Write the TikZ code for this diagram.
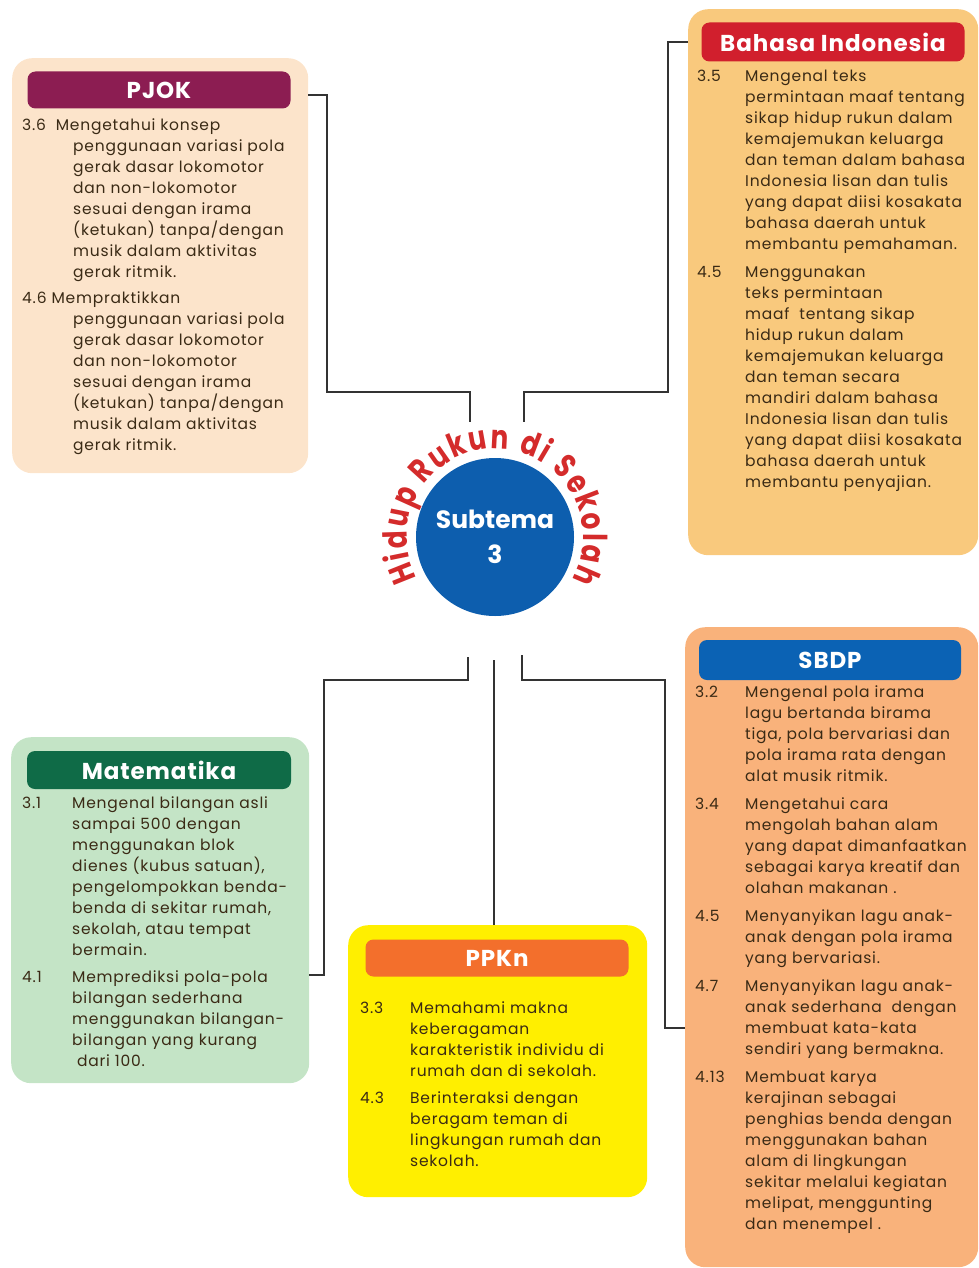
\documentclass[tikz,border=0pt]{standalone}
\usepackage{fontspec}
\setmainfont{Poppins}
\newfontfamily\bodyfam[LetterSpace=5]{Poppins}
\newfontfamily\headfam[LetterSpace=4]{Poppins}
\newfontfamily\arcfam[FakeStretch=0.8]{Poppins}
\usetikzlibrary{positioning,decorations.text}

\definecolor{pjokbg}{HTML}{FCE4CB}
\definecolor{pjokhd}{HTML}{8C1D52}
\definecolor{bindbg}{HTML}{F9C97D}
\definecolor{bindhd}{HTML}{D11F2D}
\definecolor{matbg}{HTML}{C4E4C6}
\definecolor{mathd}{HTML}{0F6B47}
\definecolor{ppknbg}{HTML}{FFEF00}
\definecolor{ppknhd}{HTML}{F36F2C}
\definecolor{sbdpbg}{HTML}{F9B27B}
\definecolor{sbdphd}{HTML}{0B62B4}
\definecolor{subblue}{HTML}{0D5EAE}
\definecolor{arcred}{HTML}{D42B2B}
\definecolor{ink}{HTML}{3A2A15}
\definecolor{wirec}{HTML}{333333}

\newcommand{\arcfont}{\arcfam\fontsize{33}{33}\selectfont\bfseries\color{arcred}}

\begin{document}
\begin{tikzpicture}[x=1pt, y=1pt,
    panel/.style={rounded corners=20pt, anchor=north west, inner sep=0pt},
    head/.style={rounded corners=8pt, text=white, inner sep=0pt,
      font=\headfam\fontsize{23}{23}\selectfont\bfseries},
    body/.style={anchor=base west, inner sep=0pt, text=ink, align=left,
      font=\bodyfam\fontsize{15.5}{21}\selectfont},
    wire/.style={draw=wirec, line width=1.8pt}
  ]
  \useasboundingbox (0,0) rectangle (979,-1268);

  % panels and their title bars
  \node[panel, fill=pjokbg, minimum width=296pt, minimum height=415pt] (pjok) at (12,-58) {};
  \node[head, fill=pjokhd, minimum width=263pt, minimum height=37pt] (pjokh) at (159,-90) {PJOK};

  \node[panel, fill=bindbg, minimum width=290pt, minimum height=546pt] (bind) at (688,-9) {};
  \node[head, fill=bindhd, minimum width=263pt, minimum height=39pt] (bindh) at (833,-42) {Bahasa Indonesia};

  \node[panel, fill=matbg, minimum width=298pt, minimum height=346pt] (mat) at (11,-737) {};
  \node[head, fill=mathd, minimum width=264pt, minimum height=38pt] (math) at (159,-770) {Matematika};

  \node[panel, fill=ppknbg, minimum width=299pt, minimum height=272pt] (ppkn) at (348,-925) {};
  \node[head, fill=ppknhd, minimum width=263pt, minimum height=37pt] (ppknh) at (497,-958) {PPKn};

  \node[panel, fill=sbdpbg, minimum width=293pt, minimum height=640pt] (sbdp) at (685,-627) {};
  \node[head, fill=sbdphd, minimum width=262pt, minimum height=40pt] (sbdph) at (830,-660) {SBDP};

  % centre
  \node[circle, fill=subblue, minimum size=158pt, text=white, align=center,
    font=\fontsize{25}{35}\selectfont\bfseries] (sub) at (495,-537) {Subtema\\3};
  \path[decorate, decoration={text along path, text align=fit to path,
      text={|\arcfont|Hidup Rukun di Sekolah}}]
    (sub.center) ++(208:88) arc[start angle=208, end angle=-29, radius=88];

  % competencies
  \node[body] (pjokt) at (22,-131) {\begin{tabular}[t]{@{}p{51pt}@{}l@{}}
    \multicolumn{2}{@{}l@{}}{3.6\ \ Mengetahui konsep}\\
    & penggunaan variasi pola\\
    & gerak dasar lokomotor\\
    & dan non-lokomotor\\
    & sesuai dengan irama\\
    & (ketukan) tanpa/dengan\\
    & musik dalam aktivitas\\
    & gerak ritmik.\\[5pt]
    \multicolumn{2}{@{}l@{}}{4.6 Mempraktikkan}\\
    & penggunaan variasi pola\\
    & gerak dasar lokomotor\\
    & dan non-lokomotor\\
    & sesuai dengan irama\\
    & (ketukan) tanpa/dengan\\
    & musik dalam aktivitas\\
    & gerak ritmik.
  \end{tabular}};

  \node[body] (bindt) at (697,-82) {\begin{tabular}[t]{@{}p{48pt}@{}l@{}}
    3.5 & Mengenal teks\\
    & permintaan maaf tentang\\
    & sikap hidup rukun dalam\\
    & kemajemukan keluarga\\
    & dan teman dalam bahasa\\
    & Indonesia lisan dan tulis\\
    & yang dapat diisi kosakata\\
    & bahasa daerah untuk\\
    & membantu pemahaman.\\[7pt]
    4.5 & Menggunakan\\
    & teks permintaan\\
    & maaf\ \ tentang sikap\\
    & hidup rukun dalam\\
    & kemajemukan keluarga\\
    & dan teman secara\\
    & mandiri dalam bahasa\\
    & Indonesia lisan dan tulis\\
    & yang dapat diisi kosakata\\
    & bahasa daerah untuk\\
    & membantu penyajian.
  \end{tabular}};

  \node[body] (matt) at (22,-808) {\begin{tabular}[t]{@{}p{50pt}@{}l@{}}
    3.1 & Mengenal bilangan asli\\
    & sampai 500 dengan\\
    & menggunakan blok\\
    & dienes (kubus satuan),\\
    & pengelompokkan benda-\\
    & benda di sekitar rumah,\\
    & sekolah, atau tempat\\
    & bermain.\\[6pt]
    4.1 & Memprediksi pola-pola\\
    & bilangan sederhana\\
    & menggunakan bilangan-\\
    & bilangan yang kurang\\
    & \ dari 100.
  \end{tabular}};

  \node[body] (ppknt) at (360,-1013) {\begin{tabular}[t]{@{}p{50pt}@{}l@{}}
    3.3 & Memahami makna\\
    & keberagaman\\
    & karakteristik individu di\\
    & rumah dan di sekolah.\\[6pt]
    4.3 & Berinteraksi dengan\\
    & beragam teman di\\
    & lingkungan rumah dan\\
    & sekolah.
  \end{tabular}};

  \node[body] (sbdpt) at (695,-697) {\begin{tabular}[t]{@{}p{50pt}@{}l@{}}
    3.2 & Mengenal pola irama\\
    & lagu bertanda birama\\
    & tiga, pola bervariasi dan\\
    & pola irama rata dengan\\
    & alat musik ritmik.\\[7pt]
    3.4 & Mengetahui cara\\
    & mengolah bahan alam\\
    & yang dapat dimanfaatkan\\
    & sebagai karya kreatif dan\\
    & olahan makanan .\\[7pt]
    4.5 & Menyanyikan lagu anak-\\
    & anak dengan pola irama\\
    & yang bervariasi.\\[7pt]
    4.7 & Menyanyikan lagu anak-\\
    & anak sederhana\ \ dengan\\
    & membuat kata-kata\\
    & sendiri yang bermakna.\\[7pt]
    4.13 & Membuat karya\\
    & kerajinan sebagai\\
    & penghias benda dengan\\
    & menggunakan bahan\\
    & alam di lingkungan\\
    & sekitar melalui kegiatan\\
    & melipat, menggunting\\
    & dan menempel .
  \end{tabular}};

  % connectors
  \coordinate (pjokend) at (470,-422);
  \coordinate (bindend) at (524,-422);
  \coordinate (matend) at (468,-657);
  \coordinate (ppknend) at (494,-660);
  \coordinate (sbdpend) at (522,-655);

  \draw[wire] (pjok.east |- 0,-95) -- (327,-95) -- (327,-392) -- (pjokend |- 0,-392) -- (pjokend);
  \draw[wire] (bind.west |- 0,-42) -- (668,-42) -- (668,-392) -- (bindend |- 0,-392) -- (bindend);
  \draw[wire] (mat.east |- 0,-975) -- (324,-975) -- (324,-680) -- (matend |- 0,-680) -- (matend);
  \draw[wire] (ppknend |- ppkn.north) -- (ppknend);
  \draw[wire] (sbdp.west |- 0,-1028) -- (665,-1028) -- (665,-680) -- (sbdpend |- 0,-680) -- (sbdpend);
\end{tikzpicture}
\end{document}
